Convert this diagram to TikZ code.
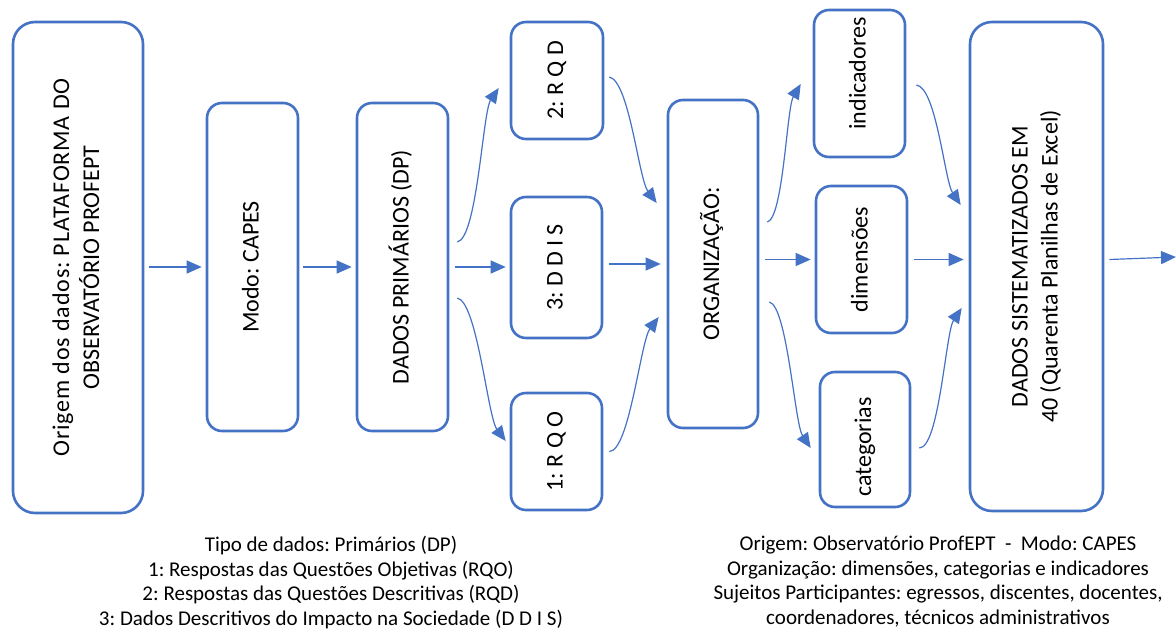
\documentclass[tikz,border=0pt]{standalone}
\usepackage{fontspec}
\setmainfont{Carlito}
\usetikzlibrary{arrows.meta,calc}
\definecolor{boxblue}{HTML}{4472C4}
% upright text set vertically, reading from bottom to top
\newcommand{\vtext}[1]{\rotatebox{90}{\begin{tabular}{@{}c@{}}#1\end{tabular}}}

\begin{document}
\frenchspacing
\begin{tikzpicture}[x=1pt,y=-1pt,
  stage/.style={draw=boxblue, line width=2.6pt, rounded corners=15pt,
    inner sep=0pt, font=\fontsize{24}{30}\selectfont},
  bigstage/.style={stage, rounded corners=22pt},
  flow/.style={draw=boxblue, line width=1.2pt,
    -{Triangle[length=15pt,width=13pt]}},
  note/.style={font=\fontsize{21}{24.5}\selectfont, align=center, inner sep=0pt}]
\useasboundingbox (0,0) rectangle (1176,635);

% stages
\node[bigstage, minimum width=130pt, minimum height=491pt] (src) at (78,267.5)
  {\vtext{{\addfontfeature{LetterSpace=3.5}Origem dos dados: PLATAFORMA DO}\\OBSERVATÓRIO PROFEPT}};
\node[stage, minimum width=91pt, minimum height=328pt] (modo) at (252.5,267)
  {\vtext{Modo: CAPES}};
\node[stage, minimum width=91pt, minimum height=328pt] (dp) at (402.5,267)
  {\vtext{DADOS PRIMÁRIOS (DP)}};

\node[stage, minimum width=92pt, minimum height=117pt] (rqd) at (557,80.5)
  {\vtext{2: R Q D}};
\node[stage, minimum width=91pt, minimum height=141pt] (ddis) at (556.5,267.5)
  {\vtext{3: D D I S}};
\node[stage, minimum width=91pt, minimum height=117pt] (rqo) at (556.5,451.5)
  {\vtext{1: R Q O}};

\node[stage, minimum width=90pt, minimum height=328pt] (org) at (713,264)
  {\vtext{ORGANIZAÇÃO:}};

\node[stage, minimum width=91pt, minimum height=147pt] (ind) at (859.5,83.5)
  {\vtext{\hspace*{20pt}indicadores}};
\node[stage, minimum width=91pt, minimum height=147pt] (dim) at (861.5,259.5)
  {\vtext{dimensões}};
\node[stage, minimum width=90pt, minimum height=135pt] (cat) at (865,439.5)
  {\vtext{categorias\hspace*{15pt}}};

\node[bigstage, minimum width=133pt, minimum height=489pt] (dse) at (1036.5,266.5)
  {\vtext{DADOS SISTEMATIZADOS EM\\40 (Quarenta Planilhas de Excel)}};

\coordinate (out) at (1176,257);

% straight connectors
\draw[flow] ([xshift=5pt]src.east |- modo.west) -- ([xshift=-4pt]modo.west);
\draw[flow] ([xshift=4pt]modo.east) -- ([xshift=-4pt]dp.west);
\draw[flow] ([xshift=6pt]dp.east) -- ([xshift=-4pt]dp.east -| ddis.west);
\draw[flow] ([xshift=6pt]ddis.east |- org.west) -- ([xshift=-6pt]org.west);
\draw[flow] ([xshift=6pt]org.east |- dim.west) -- ([xshift=-4pt]dim.west);
\draw[flow] ([xshift=6pt]dim.east) -- ([xshift=-5pt]dim.east -| dse.west);
\draw[flow] ($(dse.east)+(5,-7)$) -- (out);

% curved connectors
\draw[flow] ($(dp.east)+(8,-25)$) .. controls +(20,-4) and +(-16,24) .. ($(rqd.west)+(-11,7.5)$);
\draw[flow] ($(dp.east)+(8,31)$) .. controls +(20,4) and +(-18,-24) .. ($(rqo.west)+(-4,-10.5)$);
\draw[flow] ($(rqd.east)+(5,-3.5)$) .. controls +(20,4) and +(-18,-24) .. ($(org.west)+(-10,-61)$);
\draw[flow] ($(rqo.east)+(6,0)$) .. controls +(20,0) and +(-18,24) .. ($(org.west)+(-8,53)$);
\draw[flow] ($(org.east)+(8,-42)$) .. controls +(16,-4) and +(-14,24) .. ($(ind.west)+(-12,0.5)$);
\draw[flow] ($(org.east)+(10,38)$) .. controls +(18,4) and +(-16,-24) .. ($(cat.west)+(-8,8.5)$);
\draw[flow] ($(ind.east)+(10,1.5)$) .. controls +(20,2) and +(-16,-24) .. ($(dse.west)+(-8,-61.5)$);
\draw[flow] ($(cat.east)+(8,8.5)$) .. controls +(20,0) and +(-16,24) .. ($(dse.west)+(-7,41.5)$);

% notes below the chart
\node[note, anchor=north] (notesL) at (331,536)
  {Tipo de dados: Primários (DP)\\
   1: Respostas das Questões Objetivas (RQO)\\
   2: Respostas das Questões Descritivas (RQD)\\
   3: Dados Descritivos do Impacto na Sociedade (D D I S)};
\node[note, anchor=north] (notesR) at (938,536)
  {Origem: Observatório ProfEPT\ \ -\ \ Modo: CAPES\\
   Organização: dimensões, categorias e indicadores\\
   Sujeitos Participantes: egressos, discentes, docentes,\\
   coordenadores, técnicos administrativos};
\end{tikzpicture}
\end{document}
